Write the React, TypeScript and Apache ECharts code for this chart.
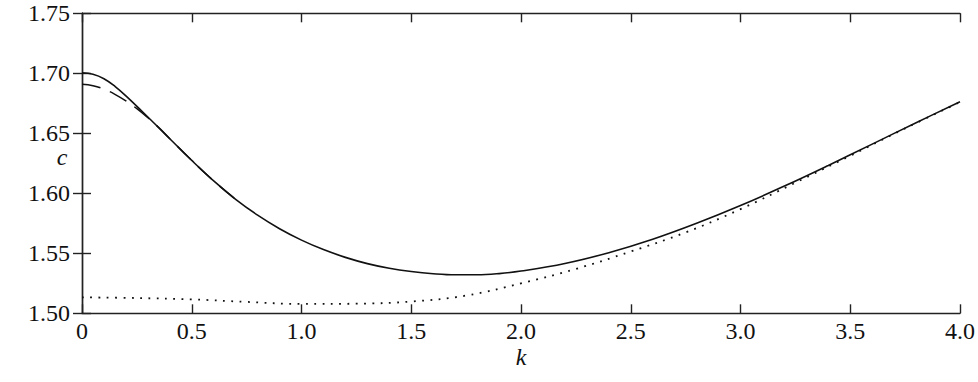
import React, { useEffect, useRef } from "react";
import * as echarts from "echarts";

// Solid curve
const kSolid = [0, 0.05, 0.1, 0.15, 0.2, 0.3, 0.4, 0.5, 0.6, 0.7, 0.8, 0.9, 1.0, 1.1, 1.2, 1.3, 1.4, 1.5, 1.6, 1.7, 1.8, 1.9, 2.0, 2.2, 2.4, 2.6, 2.8, 3.0, 3.2, 3.4, 3.6, 3.8, 4.0];
const cSolid = [1.7005, 1.6992, 1.6955, 1.6892, 1.6812, 1.6636, 1.6455, 1.6274, 1.6103, 1.595, 1.5818, 1.5705, 1.561, 1.5531, 1.5466, 1.5414, 1.5375, 1.5348, 1.533, 1.5321, 1.5321, 1.5331, 1.5352, 1.5415, 1.5505, 1.5617, 1.575, 1.5898, 1.606, 1.6232, 1.641, 1.6588, 1.6763];

// Dashed curve
const kDashed = [0, 0.05, 0.1, 0.15, 0.2, 0.25, 0.3, 0.35, 0.4, 0.5, 0.6, 0.7];
const cDashed = [1.6908, 1.6896, 1.6868, 1.6825, 1.677, 1.6705, 1.663, 1.6547, 1.6455, 1.6274, 1.6103, 1.595];

// Dotted curve
const kDotted = [0, 0.25, 0.5, 0.75, 1.0, 1.25, 1.5, 1.75, 2.0, 2.25, 2.5, 2.75, 3.0, 3.25, 3.5, 3.75, 4.0];
const cDotted = [1.5133, 1.5127, 1.5116, 1.5095, 1.5078, 1.508, 1.5098, 1.5148, 1.525, 1.537, 1.5515, 1.5674, 1.5868, 1.6088, 1.6313, 1.6541, 1.676];

const xTicks = { min: 0, max: 4, interval: 0.5 };
const yTicks = { min: 1.5, max: 1.75, interval: 0.05 };

const FONT = "Liberation Serif";
const AX = "#222";

const pairs = (ks: number[], cs: number[]) => ks.map((k, i) => [k, cs[i]]);

export default function App() {
  const ref = useRef<HTMLDivElement>(null);
  useEffect(() => {
    document.body.style.margin = "0";
    const chart = echarts.init(ref.current!, null, { renderer: "svg" });
    const axisLine = { show: true, lineStyle: { color: AX, width: 1.4 } };
    const axisTick = { show: true, inside: true, length: 9, lineStyle: { color: AX, width: 1.4 } };
    chart.setOption({
      animation: false,
      backgroundColor: "#fff",
      grid: { left: 82, right: 16.3, top: 13.3, bottom: 68.7 },
      xAxis: [
        {
          type: "value", ...xTicks, position: "bottom",
          axisLine, axisTick,
          splitLine: { show: false },
          axisLabel: {
            color: "#111", fontFamily: FONT, fontSize: 24, margin: 6,
            formatter: (v: number) => (v === 0 ? "0" : v.toFixed(1)),
          },
        },
        {
          type: "value", ...xTicks, position: "top",
          axisLine, axisTick, splitLine: { show: false }, axisLabel: { show: false },
        },
      ],
      yAxis: [
        {
          type: "value", ...yTicks, position: "left",
          axisLine, axisTick, splitLine: { show: false },
          axisLabel: {
            color: "#111", fontFamily: FONT, fontSize: 24, margin: 12,
            formatter: (v: number) => v.toFixed(2),
          },
        },
        {
          type: "value", ...yTicks, position: "right",
          axisLine, axisTick, splitLine: { show: false }, axisLabel: { show: false },
        },
      ],
      graphic: [
        { type: "text", x: 62, y: 157, style: { text: "c", fontFamily: FONT, fontStyle: "italic", fontSize: 24, lineHeight: 18, fill: "#111", align: "center", verticalAlign: "middle" } },
        { type: "text", x: 521, y: 357, style: { text: "k", fontFamily: FONT, fontStyle: "italic", fontSize: 24, fill: "#111", align: "center", verticalAlign: "middle" } },
      ],
      series: [
        {
          type: "line", data: pairs(kDotted, cDotted), showSymbol: false, smooth: 0.4,
          lineStyle: { color: "#111", width: 1.8, type: [1.8, 6.5], cap: "butt" },
        },
        {
          type: "line", data: pairs(kDashed, cDashed), showSymbol: false, smooth: 0.4,
          lineStyle: { color: "#111", width: 1.5, type: [19, 10] },
        },
        {
          type: "line", data: pairs(kSolid, cSolid), showSymbol: false, smooth: 0.4,
          lineStyle: { color: "#111", width: 1.6 },
        },
      ],
    });
    return () => chart.dispose();
  }, []);
  return <div ref={ref} style={{ width: 978, height: 382 }} />;
}
